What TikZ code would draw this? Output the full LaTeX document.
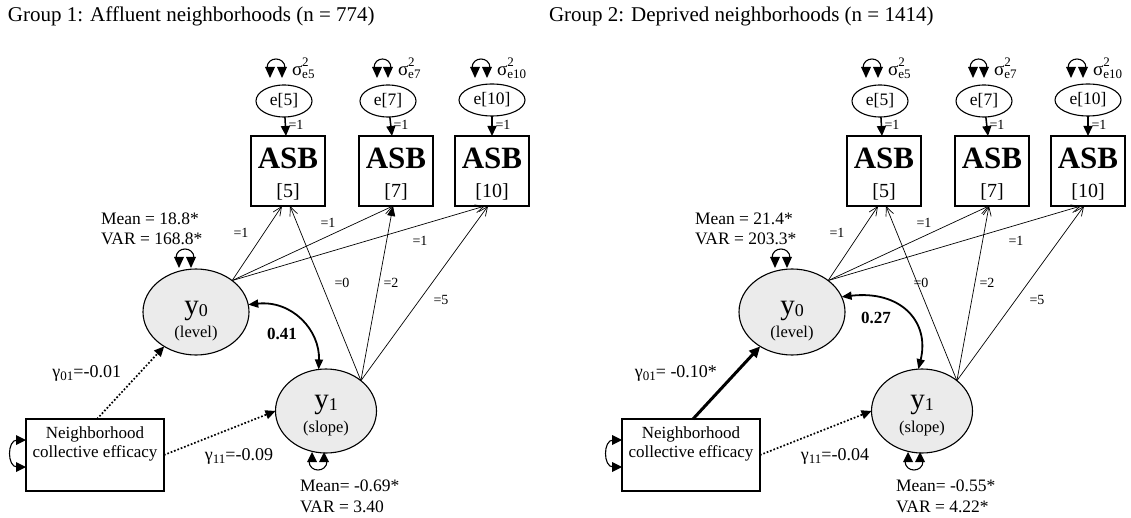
\documentclass[tikz,border=0pt]{standalone}
\usepackage{fontspec}
\setmainfont{Liberation Serif}
\usetikzlibrary{arrows.meta,shapes.geometric}
\newcommand\fs[1]{\fontsize{#1}{#1}\selectfont}
\newcommand\sig[1]{σ\rlap{\raisebox{9pt}{\fs{13}2}}\raisebox{-2.5pt}{\fs{13}#1}}
\newcommand\gam[1]{γ\raisebox{-3pt}{\fs{13}#1}}
% small filled triangles (variance marks)
\newcommand\tridown[2]{\fill (#1-5,#2-11) -- (#1+5,#2-11) -- (#1,#2) -- cycle;}
\newcommand\triup[2]{\fill (#1-5,#2+10) -- (#1+5,#2+10) -- (#1,#2) -- cycle;}
\newcommand\triright[2]{\fill (#1-10,#2-5) -- (#1-10,#2+5) -- (#1,#2) -- cycle;}
\newcommand\varabove[3]{\tridown{#1}{#3}\tridown{#2}{#3}%
  \draw[varline] (#1-3,#3-10) .. controls (#1-3,#3-22) and (#2+3,#3-22) .. (#2+3,#3-10);}
\newcommand\varbelow[3]{\triup{#1}{#3}\triup{#2}{#3}%
  \draw[varline] (#1-3,#3+9) .. controls (#1-3,#3+21) and (#2+3,#3+21) .. (#2+3,#3+9);}
\tikzset{
  every node/.style={inner sep=0pt, outer sep=0pt, text=black},
  errell/.style={ellipse, draw, line width=1.1pt, minimum width=56pt, minimum height=32pt, font=\fs{17.5}},
  asbbox/.style={draw, line width=1.2pt, minimum width=74pt, minimum height=70pt},
  asbtxt/.style={anchor=base, font=\fs{31}\bfseries},
  idxtxt/.style={anchor=base, font=\fs{20}},
  latent/.style={ellipse, draw, line width=1.1pt, fill=black!8},
  nbbox/.style={draw, line width=1.2pt, minimum width=138pt, minimum height=72pt},
  nbtxt/.style={anchor=base, font=\fs{17}},
  load/.style={line width=0.7pt, -{Straight Barb[length=9pt,width=8pt]}},
  loadfill/.style={line width=0.7pt, -{Triangle[length=10pt,width=8pt]}},
  errarrow/.style={line width=1.5pt, -{Triangle[length=10pt,width=9pt]}},
  varline/.style={line width=1.1pt},
  corr/.style={line width=1.8pt, {Triangle[length=10pt,width=8pt]}-{Triangle[length=10pt,width=8pt]}},
  dotarrow/.style={line width=1.7pt, dash pattern=on 1.7pt off 1.9pt, -{Triangle[length=10pt,width=9pt]}},
  solidarrow/.style={line width=3pt, -{Triangle[length=11pt,width=10pt]}},
  coef/.style={font=\fs{14}},
  lbl/.style={anchor=base west, font=\fs{17.5}},
  glbl/.style={anchor=base east, font=\fs{18}},
  ttl/.style={anchor=base west, font=\fs{21}},
  siglbl/.style={anchor=base west, font=\fs{19}},
  bigy/.style={anchor=base, font=\fs{29}},
  smalltxt/.style={anchor=base, font=\fs{16.5}},
}
% #1 prefix, #2 style of y1->ASB[7], #3 x of "=0" label
\newcommand\drawgroup[3]{%
  \node[errell] (#1e5) at (284,101) {e[5]};
  \node[errell] (#1e7) at (388,101) {e[7]};
  \node[errell, minimum width=66pt] (#1e10) at (492,100) {e[10]};
  \node[asbbox] (#1a5) at (288,171) {};
  \node[asbbox] (#1a7) at (396,171) {};
  \node[asbbox] (#1a10) at (492,171) {};
  \node[asbtxt] (#1a5t) at (288,169) {ASB};
  \node[asbtxt] (#1a7t) at (396,169) {ASB};
  \node[asbtxt] (#1a10t) at (492,169) {ASB};
  \node[idxtxt] (#1a5i) at (288,198) {[5]};
  \node[idxtxt] (#1a7i) at (396,198) {[7]};
  \node[idxtxt] (#1a10i) at (492,198) {[10]};
  \draw[errarrow] (#1e5) -- (#1a5);
  \draw[errarrow] (#1e7) -- (#1a7);
  \draw[errarrow] (#1e10) -- (#1a10);
  \node[coef] (#1w5) at (296,125) {=1};
  \node[coef] (#1w7) at (401,125) {=1};
  \node[coef] (#1w10) at (503,125) {=1};
  \node[siglbl] (#1s5) at (292,76) {\sig{e5}};
  \node[siglbl] (#1s7) at (398,76) {\sig{e7}};
  \node[siglbl] (#1s10) at (497,76) {\sig{e10}};
  \varabove{270}{282}{78}
  \varabove{377}{388}{78}
  \varabove{475}{487}{78}
  \node[latent, minimum width=106pt, minimum height=86pt] (#1y0) at (196,312) {};
  \node[latent, minimum width=101pt, minimum height=84pt] (#1y1) at (326,411) {};
  \node[bigy] (#1y0t) at (196,314) {y\raisebox{-2pt}{\fs{18}0}};
  \node[smalltxt] (#1y0l) at (196,337) {(level)};
  \node[bigy] (#1y1t) at (326,408) {y\raisebox{-2pt}{\fs{18}1}};
  \node[smalltxt] (#1y1l) at (326,432) {(slope)};
  \varabove{179}{191}{268}
  \varbelow{312}{324}{452}
  \node[nbbox] (#1nb) at (95,455) {};
  \node[nbtxt] (#1nbt1) at (95,438) {Neighborhood};
  \node[nbtxt] (#1nbt2) at (95,457) {collective efficacy};
  \triright{26}{440}\triright{26}{467}
  \draw[varline] (17,440) .. controls (7,440) and (7,467) .. (17,467);
  \draw[load] (#1y0.41) -- ([xshift=-6pt]#1a5.south);
  \draw[load] (#1y0.41) -- ([xshift=-3pt]#1a7.south);
  \draw[load] (#1y0.41) -- ([xshift=-7pt]#1a10.south);
  \draw[load] (#1y1.41) -- ([xshift=2pt]#1a5.south);
  \draw[#2] (#1y1.41) -- ([xshift=-3pt]#1a7.south);
  \draw[load] (#1y1.41) -- ([xshift=-4pt]#1a10.south);
  \node[coef] (#1c1) at (241,233) {=1};
  \node[coef] (#1c2) at (328,223) {=1};
  \node[coef] (#1c3) at (420,241) {=1};
  \node[coef] (#1c4) at (#3,283) {=0};
  \node[coef] (#1c5) at (391,283) {=2};
  \node[coef] (#1c6) at (441,300) {=5};
  \draw[dotarrow] (#1nb.east) -- (#1y1.west);
}
\begin{document}
\begin{tikzpicture}[x=1pt,y=-1pt]
  \fill[white] (0,0) rectangle (1131,518);
  \useasboundingbox (0,0) rectangle (1131,518);
  \node[ttl] (t1) at (8,22) {Group 1: Affluent neighborhoods (n = 774)};
  \node[ttl] (t2) at (549,22) {Group 2: Deprived neighborhoods (n = 1414)};
  % Group 1
  \drawgroup{a}{loadfill}{342}
  \node[lbl] (amean0) at (101,225) {Mean = 18.8*};
  \node[lbl] (avar0) at (101,245) {VAR = 168.8*};
  \node[lbl] (amean1) at (300,491) {Mean= -0.69*};
  \node[lbl] (avar1) at (300,512) {VAR = 3.40};
  \node[font=\fs{17}\bfseries] (acorr) at (282,334) {0.41};
  \node[glbl] (ag01) at (121,377) {\gam{01}=-0.01};
  \node[glbl] (ag11) at (273,460) {\gam{11}=-0.09};
  \draw[corr] (ay0.8) .. controls (292,300) and (320,330) .. (ay1.100);
  \draw[dotarrow] ([xshift=2pt]anb.north) -- (ay0);
  % Group 2
  \begin{scope}[xshift=596pt]
    \drawgroup{b}{load}{325}
    \node[lbl] (bmean0) at (99,225) {Mean = 21.4*};
    \node[lbl] (bvar0) at (99,245) {VAR = 203.3*};
    \node[lbl] (bmean1) at (300,491) {Mean= -0.55*};
    \node[lbl] (bvar1) at (300,512) {VAR = 4.22*};
    \node[font=\fs{17}\bfseries] (bcorr) at (280,318) {0.27};
    \node[glbl] (bg01) at (121,377) {\gam{01}= -0.10*};
    \node[glbl] (bg11) at (273,460) {\gam{11}=-0.04};
    \draw[corr] (by0.17) .. controls (305,290) and (334,322) .. (by1.95);
    \draw[solidarrow] ([xshift=2pt]bnb.north) -- (by0);
  \end{scope}
\end{tikzpicture}
\end{document}
